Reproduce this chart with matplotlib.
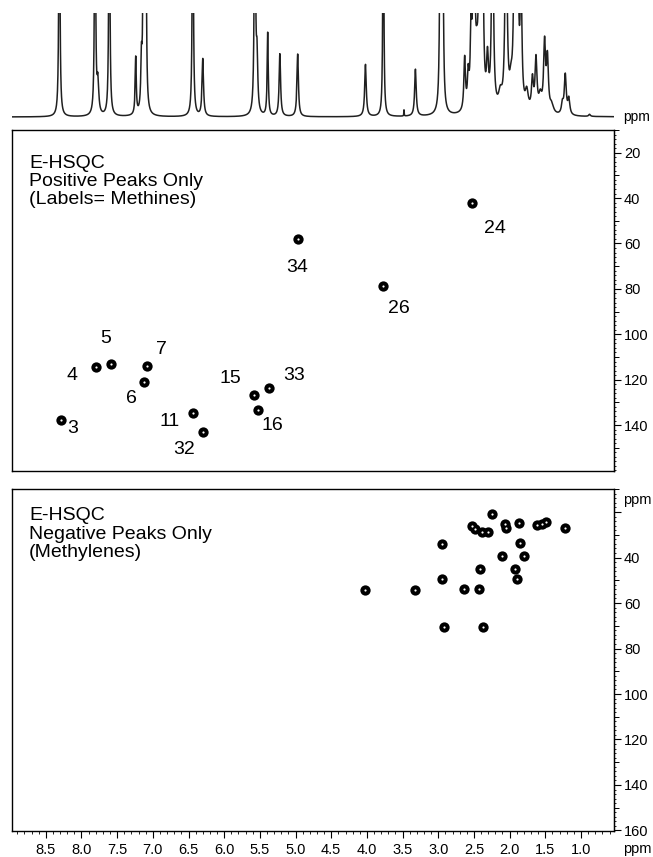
import numpy as np
import matplotlib.pyplot as plt
from matplotlib.ticker import MultipleLocator, FormatStrFormatter

plt.rcParams['font.family'] = ['Liberation Sans', 'DejaVu Sans']

# 1D proton trace on top: peak centre (ppm), height (1 = top of box), half width
spec_ppm = [8.31, 7.81, 7.77, 7.61, 7.24, 7.16, 7.13, 7.10, 6.44, 6.30,
            5.57, 5.54, 5.39, 5.22, 4.97, 4.02, 3.77, 3.48, 3.32, 2.97,
            2.94, 2.63, 2.58, 2.54, 2.50, 2.46, 2.42, 2.38, 2.31, 2.24,
            2.13, 2.05, 1.98, 1.93, 1.89, 1.84, 1.76, 1.68, 1.63, 1.57,
            1.51, 1.47, 1.41, 1.26, 1.22, 1.17, 0.88]
spec_h = [3.0, 3.0, 0.3, 3.0, 0.55, 0.45, 3.0, 3.0, 3.0, 0.55,
          3.0, 0.5, 0.8, 0.6, 0.6, 0.5, 3.0, 0.06, 0.45, 3.0,
          3.0, 0.5, 0.3, 0.7, 2.5, 0.3, 2.5, 2.0, 0.45, 2.5,
          0.15, 2.5, 0.2, 2.0, 2.0, 1.2, 0.18, 0.3, 0.5, 0.15,
          0.65, 0.5, 0.08, 0.1, 0.38, 0.15, 0.02]
spec_w = [0.008, 0.008, 0.014, 0.008, 0.009, 0.01, 0.008, 0.008, 0.008, 0.012,
          0.009, 0.012, 0.009, 0.012, 0.012, 0.013, 0.007, 0.003, 0.013, 0.009,
          0.009, 0.013, 0.013, 0.013, 0.013, 0.02, 0.013, 0.013, 0.016, 0.013,
          0.03, 0.014, 0.025, 0.014, 0.014, 0.014, 0.025, 0.016, 0.016, 0.025,
          0.016, 0.016, 0.03, 0.016, 0.016, 0.016, 0.014]

# E-HSQC positive (methine) peaks: 1H ppm, 13C ppm, label
pos_h = [8.29, 7.79, 7.59, 7.08, 7.13, 6.44, 6.30, 5.58, 5.53, 5.37, 4.96, 3.77, 2.53]
pos_c = [137.8, 114.6, 113.1, 114.0, 120.9, 134.8, 143.2, 126.9, 133.4, 123.6, 58.1, 78.7, 42.0]
pos_lab = ['3', '4', '5', '7', '6', '11', '32', '15', '16', '33', '34', '26', '24']

# E-HSQC negative (methylene) peaks
neg_h = [2.24, 2.53, 2.49, 2.39, 2.31, 2.07, 2.05, 1.87, 1.62, 1.55, 1.49, 1.22,
         2.95, 1.85, 2.10, 1.80, 2.41, 1.92, 2.95, 1.90, 4.02, 3.32, 2.64, 2.43,
         2.92, 2.38]
neg_c = [20.9, 26.0, 27.4, 28.8, 28.8, 25.2, 27.0, 24.8, 25.6, 25.2, 24.3, 26.8,
         34.0, 33.7, 39.5, 39.5, 45.1, 45.1, 49.5, 49.5, 54.2, 54.2, 53.9, 53.9,
         70.4, 70.4]

xticks = [8.5, 8.0, 7.5, 7.0, 6.5, 6.0, 5.5, 5.0, 4.5, 4.0, 3.5, 3.0, 2.5, 2.0, 1.5, 1.0]

# label offsets in pixels (dx, dy) relative to the peak
lab_off = {'3': (12, -8), '4': (-24, -8), '5': (-5, 26), '7': (14, 17), '6': (-12, -17),
           '11': (-23, -8), '32': (-19, -17), '15': (-24, 17), '16': (15, -15),
           '33': (25, 12), '34': (-1, -28), '26': (16, -23), '24': (23, -26)}

W, H = 653, 857
fig = plt.figure(figsize=(W / 100, H / 100), dpi=100)
XL, XR = 8.978, 0.533
left, width = 11.7 / W, 602.6 / W


def box(top, bottom):
    return [left, 1 - bottom / H, width, (bottom - top) / H]


# ---- 1D trace
ax_s = fig.add_axes(box(12.7, 120))
x = np.linspace(0.53, 8.98, 8000)
y = np.zeros_like(x)
for p, h, w in zip(spec_ppm, spec_h, spec_w):
    y += h * w ** 2 / ((x - p) ** 2 + w ** 2)
ax_s.plot(x, y, color='#202020', lw=1.1)
ax_s.set_xlim(XL, XR)
ax_s.set_ylim(-0.029, 1.0)
ax_s.axis('off')
fig.text(637 / W, 1 - 117 / H, 'ppm', ha='center', va='center', fontsize=10)


def style_panel(ax):
    ax.set_xlim(XL, XR)
    ax.set_ylim(160.1, 10)
    ax.yaxis.tick_right()
    ax.tick_params(axis='y', direction='out', length=5, width=0.8, labelsize=10.5, pad=2)
    ax.yaxis.set_minor_locator(MultipleLocator(2))
    ax.tick_params(axis='y', which='minor', direction='out', length=1.5, width=0.6)
    sec = ax.secondary_yaxis('right')
    sec.set_yticks(np.arange(10, 161, 20))
    sec.tick_params(length=3.5, width=0.7, labelright=False)
    for s in ax.spines.values():
        s.set_linewidth(1.0)


def draw_peaks(ax, hs, cs):
    ax.scatter(hs, cs, s=55, marker='o', color='black', linewidths=0, zorder=3)
    ax.scatter(hs, cs, s=2.5, marker='o', color='white', linewidths=0, zorder=4)


# ---- positive panel
ax1 = fig.add_axes(box(130, 470.7))
style_panel(ax1)
ax1.set_yticks([20, 40, 60, 80, 100, 120, 140])
ax1.set_xticks([])
draw_peaks(ax1, pos_h, pos_c)
for hx, cy, lab in zip(pos_h, pos_c, pos_lab):
    dx, dy = lab_off[lab]
    ax1.annotate(lab, (hx, cy), xytext=(dx, dy), textcoords='offset pixels',
                 ha='center', va='center', fontsize=14)
ax1.text(17.3 / 602.6, 1 - 24.5 / 340.7, 'E-HSQC\nPositive Peaks Only\n(Labels= Methines)',
         transform=ax1.transAxes, ha='left', va='top', fontsize=14, linespacing=1.1)

# ---- negative panel
ax2 = fig.add_axes(box(489.3, 830.7))
style_panel(ax2)
ax2.set_yticks([20, 40, 60, 80, 100, 120, 140, 160])
ax2.set_yticklabels(['', '40', '60', '80', '100', '120', '140', '160'])
ax2.set_xticks(xticks)
ax2.xaxis.set_major_formatter(FormatStrFormatter('%.1f'))
ax2.xaxis.set_minor_locator(MultipleLocator(0.1))
ax2.tick_params(axis='x', direction='out', length=5, width=0.8, labelsize=10.5, pad=4)
ax2.tick_params(axis='x', which='minor', direction='out', length=2, width=0.6)
draw_peaks(ax2, neg_h, neg_c)
ax2.text(17.3 / 602.6, 1 - 18 / 341.4, 'E-HSQC\nNegative Peaks Only\n(Methylenes)',
         transform=ax2.transAxes, ha='left', va='top', fontsize=14, linespacing=1.1)
fig.text(637 / W, 1 - 500 / H, 'ppm', ha='center', va='center', fontsize=10.5)
fig.text(637 / W, 1 - 849 / H, 'ppm', ha='center', va='center', fontsize=10.5)

fig.savefig('out.png', dpi=100)
